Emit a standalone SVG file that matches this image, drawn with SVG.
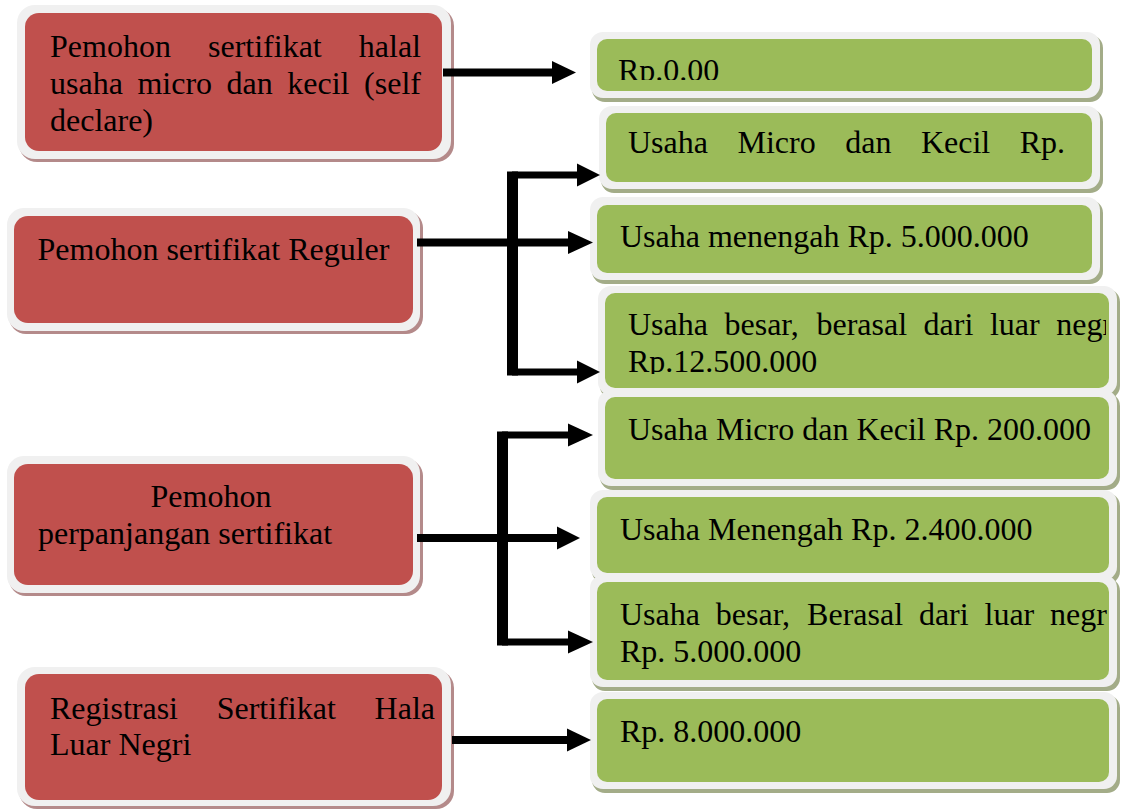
<svg xmlns="http://www.w3.org/2000/svg" width="1122" height="810" viewBox="0 0 1122 810">
<style>
.rsh{fill:#b48a8a}
.gsh{fill:#a3ac88}
.frm{fill:#f0f0f0}
.red{fill:#c0504d}
.grn{fill:#9bbb59}
.t{font-family:"Liberation Serif","Times New Roman",serif;font-size:32px;fill:#000}
.ln{stroke:#000;fill:none}
.ah{fill:#000}
</style>
<defs>
<clipPath id="cG1"><rect x="597" y="39" width="495" height="41"/></clipPath>
<clipPath id="cG4"><rect x="605" y="293" width="501" height="81"/></clipPath>
<clipPath id="cG7"><rect x="597" y="582" width="510" height="98"/></clipPath>
</defs>
<rect width="1122" height="810" fill="#fff"/>

<g id="red1">
<rect class="rsh" x="19" y="8" width="435" height="154" rx="18"/>
<rect class="frm" x="17" y="5" width="434" height="154" rx="18"/>
<rect class="red" x="25" y="13" width="417" height="138" rx="14"/>
<text class="t"><tspan x="50" y="57">Pemohon</tspan><tspan x="208" y="57">sertifikat</tspan><tspan x="358.8" y="57">halal</tspan></text>
<text class="t"><tspan x="50" y="94">usaha</tspan><tspan x="137.4" y="94">micro</tspan><tspan x="226.6" y="94">dan</tspan><tspan x="287.3" y="94">kecil</tspan><tspan x="364.1" y="94">(self</tspan></text>
<text class="t" x="50" y="131">declare)</text>
</g>

<g id="red2">
<rect class="rsh" x="9" y="211" width="414" height="123" rx="17"/>
<rect class="frm" x="7" y="208" width="413" height="123" rx="17"/>
<rect class="red" x="14" y="216" width="399" height="107" rx="14"/>
<text class="t" x="37.5" y="260">Pemohon sertifikat Reguler</text>
</g>

<g id="red3">
<rect class="rsh" x="9" y="459" width="414" height="137" rx="17"/>
<rect class="frm" x="7" y="456" width="413" height="137" rx="17"/>
<rect class="red" x="14" y="464" width="399" height="121" rx="14"/>
<text class="t" x="211" y="507" text-anchor="middle">Pemohon</text>
<text class="t" x="38" y="544">perpanjangan sertifikat</text>
</g>

<g id="red4">
<rect class="rsh" x="19" y="670" width="435" height="139" rx="18"/>
<rect class="frm" x="17" y="667" width="434" height="139" rx="18"/>
<rect class="red" x="25" y="674" width="417" height="126" rx="14"/>
<text class="t"><tspan x="50" y="719">Registrasi</tspan><tspan x="216.7" y="719">Sertifikat</tspan><tspan x="374.6" y="719">Hala</tspan></text>
<text class="t" x="50" y="755">Luar Negri</text>
</g>

<g id="green1">
<rect class="gsh" x="592" y="35" width="511" height="67" rx="13"/>
<rect class="frm" x="590" y="32" width="510" height="66" rx="13"/>
<rect class="grn" x="597" y="39" width="495" height="52" rx="10"/>
<text class="t" x="618" y="81" clip-path="url(#cG1)">Rp.0.00</text>
</g>

<g id="green2">
<rect class="gsh" x="601" y="109" width="502" height="84" rx="13"/>
<rect class="frm" x="599" y="106" width="501" height="83" rx="13"/>
<rect class="grn" x="606" y="113" width="486" height="69" rx="10"/>
<text class="t"><tspan x="628" y="153">Usaha</tspan><tspan x="737.5" y="153">Micro</tspan><tspan x="845.2" y="153">dan</tspan><tspan x="920.9" y="153">Kecil</tspan><tspan x="1019.7" y="153">Rp.</tspan></text>
</g>

<g id="green3">
<rect class="gsh" x="592" y="200" width="511" height="84" rx="13"/>
<rect class="frm" x="590" y="197" width="510" height="83" rx="13"/>
<rect class="grn" x="597" y="205" width="495" height="68" rx="10"/>
<text class="t" x="620" y="247">Usaha menengah Rp. 5.000.000</text>
</g>

<g id="green4">
<rect class="gsh" x="600" y="289" width="520" height="110" rx="13"/>
<rect class="frm" x="598" y="286" width="519" height="109" rx="13"/>
<rect class="grn" x="605" y="293" width="504" height="95" rx="10"/>
<g clip-path="url(#cG4)">
<text class="t"><tspan x="628" y="335">Usaha</tspan><tspan x="724.5" y="335">besar,</tspan><tspan x="816.5" y="335">berasal</tspan><tspan x="923.6" y="335">dari</tspan><tspan x="989.9" y="335">luar</tspan><tspan x="1056.2" y="335">negri</tspan></text>
<text class="t" x="628" y="372">Rp.12.500.000</text>
</g>
</g>

<g id="green5">
<rect class="gsh" x="600" y="393" width="520" height="97" rx="13"/>
<rect class="frm" x="598" y="390" width="519" height="96" rx="13"/>
<rect class="grn" x="605" y="397" width="504" height="82" rx="10"/>
<text class="t" x="628" y="440">Usaha Micro dan Kecil Rp. 200.000</text>
</g>

<g id="green6">
<rect class="gsh" x="592" y="493" width="528" height="91" rx="13"/>
<rect class="frm" x="590" y="490" width="527" height="90" rx="13"/>
<rect class="grn" x="597" y="497" width="512" height="76" rx="10"/>
<text class="t" x="620" y="540">Usaha Menengah Rp. 2.400.000</text>
</g>

<g id="green7">
<rect class="gsh" x="592" y="578" width="528" height="113" rx="13"/>
<rect class="frm" x="590" y="575" width="527" height="112" rx="13"/>
<rect class="grn" x="597" y="582" width="512" height="98" rx="10"/>
<g clip-path="url(#cG7)">
<text class="t"><tspan x="620" y="625">Usaha</tspan><tspan x="715.8" y="625">besar,</tspan><tspan x="807.1" y="625">Berasal</tspan><tspan x="918.9" y="625">dari</tspan><tspan x="984.5" y="625">luar</tspan><tspan x="1050.1" y="625">negri</tspan></text>
<text class="t" x="620" y="662">Rp. 5.000.000</text>
</g>
</g>

<g id="green8">
<rect class="gsh" x="592" y="695" width="528" height="98" rx="13"/>
<rect class="frm" x="590" y="692" width="527" height="97" rx="13"/>
<rect class="grn" x="597" y="699" width="512" height="83" rx="10"/>
<text class="t" x="620" y="742">Rp. 8.000.000</text>
</g>

<g id="connectors">
<line class="ln" x1="443" y1="72.5" x2="553" y2="72.5" stroke-width="8"/>
<polygon class="ah" points="552,61 576,72.5 552,84"/>

<line class="ln" x1="417" y1="242.5" x2="569" y2="242.5" stroke-width="8"/>
<polygon class="ah" points="568,231 593,242.5 568,254"/>
<rect class="ah" x="507" y="171.5" width="11" height="204"/>
<line class="ln" x1="512" y1="175" x2="578" y2="175" stroke-width="7"/>
<polygon class="ah" points="577,163.5 600,175 577,186.5"/>
<line class="ln" x1="512" y1="372" x2="578" y2="372" stroke-width="7"/>
<polygon class="ah" points="577,360.5 600,372 577,383.5"/>

<rect class="ah" x="497" y="431.5" width="11" height="214"/>
<line class="ln" x1="502" y1="435" x2="569" y2="435" stroke-width="7"/>
<polygon class="ah" points="568,423.5 593,435 568,446.5"/>
<line class="ln" x1="417" y1="538" x2="558" y2="538" stroke-width="8"/>
<polygon class="ah" points="557,526.5 580,538 557,549.5"/>
<line class="ln" x1="502" y1="642" x2="569" y2="642" stroke-width="7"/>
<polygon class="ah" points="568,630.5 593,642 568,653.5"/>

<line class="ln" x1="452" y1="740" x2="568" y2="740" stroke-width="8"/>
<polygon class="ah" points="567,728.5 591,740 567,751.5"/>
</g>
</svg>
